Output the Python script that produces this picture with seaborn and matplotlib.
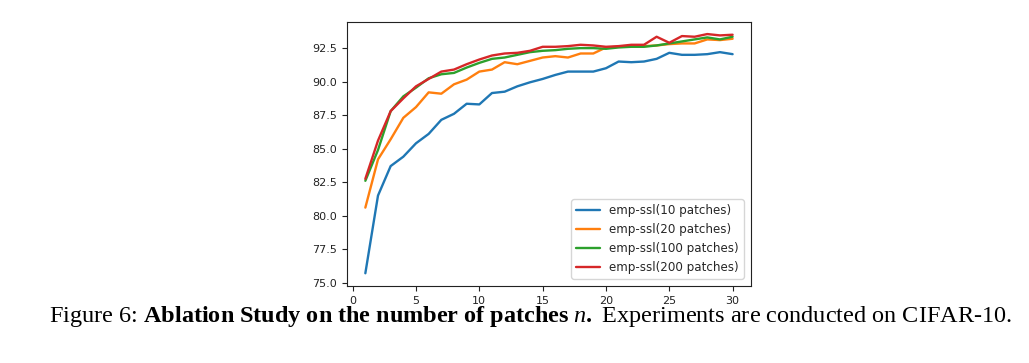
import matplotlib
matplotlib.use("Agg")
import matplotlib.pyplot as plt
import pandas as pd
import seaborn as sns


epochs = list(range(1, 31))

acc_10 = [75.7, 81.5, 83.7, 84.4, 85.4, 86.1, 87.15, 87.6, 88.35, 88.3,
          89.15, 89.25, 89.65, 89.95, 90.2, 90.5, 90.75, 90.75, 90.75, 91.0,
          91.5, 91.45, 91.5, 91.7, 92.15, 92.0, 92.0, 92.05, 92.2, 92.05]
acc_20 = [80.6, 84.2, 85.7, 87.3, 88.1, 89.2, 89.1, 89.8, 90.15, 90.75,
          90.9, 91.45, 91.3, 91.55, 91.8, 91.9, 91.8, 92.1, 92.1, 92.55,
          92.6, 92.65, 92.65, 92.7, 92.8, 92.85, 92.85, 93.15, 93.1, 93.2]
acc_100 = [82.6, 84.9, 87.8, 88.9, 89.55, 90.25, 90.55, 90.65, 91.05, 91.4,
           91.7, 91.8, 92.0, 92.2, 92.3, 92.35, 92.45, 92.5, 92.5, 92.45,
           92.55, 92.6, 92.6, 92.7, 92.85, 93.0, 93.15, 93.3, 93.15, 93.35]
acc_200 = [82.75, 85.6, 87.8, 88.75, 89.65, 90.2, 90.75, 90.9, 91.3, 91.65,
           91.95, 92.1, 92.15, 92.3, 92.6, 92.6, 92.65, 92.75, 92.7, 92.6,
           92.65, 92.75, 92.75, 93.35, 92.9, 93.4, 93.35, 93.55, 93.45, 93.5]

series_names = [
    "emp-ssl(10 patches)",
    "emp-ssl(20 patches)",
    "emp-ssl(100 patches)",
    "emp-ssl(200 patches)",
]
yticks = [75.0, 77.5, 80.0, 82.5, 85.0, 87.5, 90.0, 92.5]
xticks = [0, 5, 10, 15, 20, 25, 30]

caption = (r"Figure 6: $\mathbf{Ablation\ Study\ on\ the\ number\ of\ patches}$ "
           r"$n$$\mathbf{.}$ Experiments are conducted on CIFAR-10.")


def build_frame() -> pd.DataFrame:
    rows = []
    for name, values in zip(series_names, [acc_10, acc_20, acc_100, acc_200]):
        for e, v in zip(epochs, values):
            rows.append({"epoch": e, "acc": v, "model": name})
    return pd.DataFrame(rows)


def main() -> None:
    df = build_frame()

    sns.set_style("ticks")
    plt.rcParams["font.family"] = ["DejaVu Sans"]
    plt.rcParams["mathtext.fontset"] = "custom"
    plt.rcParams["mathtext.rm"] = "Liberation Serif"
    plt.rcParams["mathtext.it"] = "Liberation Serif:italic"
    plt.rcParams["mathtext.bf"] = "Liberation Serif:bold"

    fig = plt.figure(figsize=(10.29, 3.63), dpi=100)
    ax = fig.add_axes([0.3372, 0.2121, 0.3926, 0.7273])

    sns.lineplot(
        data=df,
        x="epoch",
        y="acc",
        hue="model",
        hue_order=series_names,
        palette=["#1f77b4", "#ff7f0e", "#2ca02c", "#d62728"],
        linewidth=1.7,
        ax=ax,
    )

    ax.set_xlim(-0.45, 31.45)
    ax.set_ylim(74.75, 94.45)
    ax.set_xticks(xticks)
    ax.set_yticks(yticks)
    ax.set_yticklabels([f"{t:.1f}" for t in yticks])
    ax.set_xlabel("")
    ax.set_ylabel("")
    ax.tick_params(labelsize=8, colors="#222222", length=3.5, width=0.8)
    for spine in ax.spines.values():
        spine.set_color("#222222")
        spine.set_linewidth(0.8)

    sns.move_legend(ax, "lower right", title=None, fontsize=8.6,
                    frameon=True, framealpha=0.8, edgecolor="#cccccc",
                    fancybox=True, borderaxespad=0.6)

    fig.text(0.516, 0.128, caption, ha="center", va="center",
             fontsize=17.5, family="Liberation Serif", color="black")

    fig.savefig("out.png", dpi=100)
    plt.close(fig)


if __name__ == "__main__":
    main()
